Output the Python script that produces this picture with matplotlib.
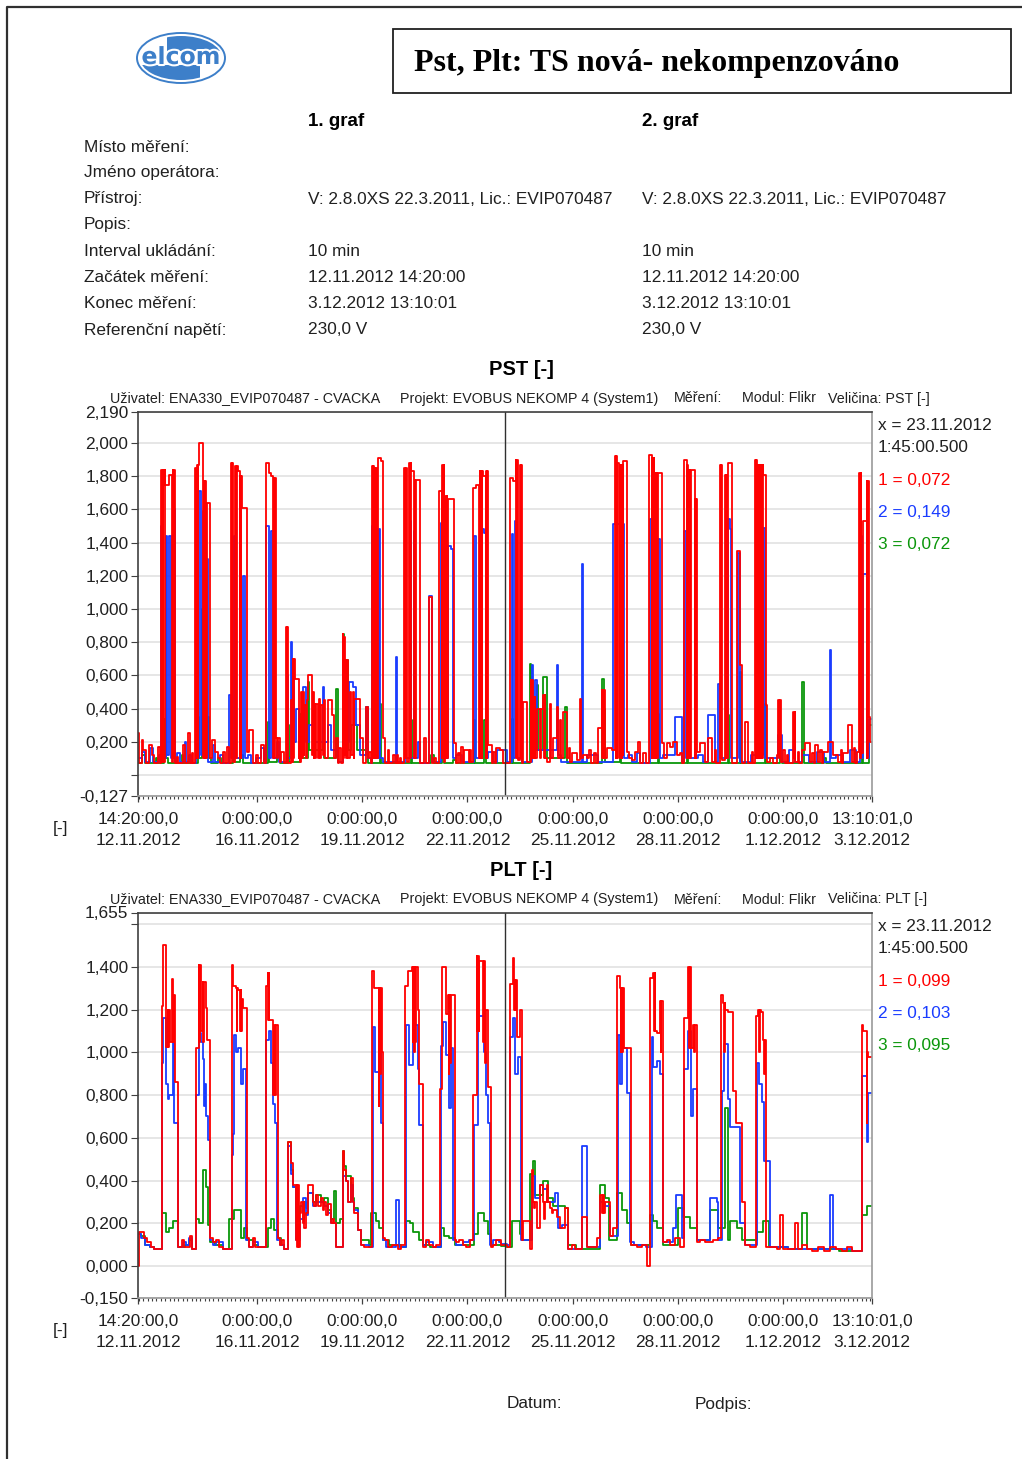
import datetime as dt
import matplotlib
matplotlib.use("Agg")
import matplotlib.pyplot as plt
from matplotlib.patches import Ellipse, Rectangle
from matplotlib.ticker import FixedLocator, FixedFormatter
import matplotlib.patheffects as pe

# ---------------------------------------------------------------- record info
START = dt.datetime(2012, 11, 12, 14, 20, 0)
END = dt.datetime(2012, 12, 3, 13, 10, 1)
CURSOR = dt.datetime(2012, 11, 23, 1, 45, 0, 500000)

TITLE = "Pst, Plt: TS nová- nekompenzováno"
INFO_LABELS = ["Místo měření:", "Jméno operátora:", "Přístroj:", "Popis:",
               "Interval ukládání:", "Začátek měření:", "Konec měření:",
               "Referenční napětí:"]
INFO_GRAF1 = ["", "", "V: 2.8.0XS 22.3.2011, Lic.: EVIP070487", "",
              "10 min", "12.11.2012 14:20:00", "3.12.2012 13:10:01", "230,0 V"]
INFO_GRAF2 = list(INFO_GRAF1)
HEADER_PARTS = ["Uživatel: ENA330_EVIP070487 - CVACKA",
                "Projekt: EVOBUS NEKOMP 4 (System1)", "Měření:",
                "Modul: Flikr", "Veličina: {q} [-]"]

XTICK_TIMES = ["2012-11-12 14:20:00", "2012-11-16 00:00:00", "2012-11-19 00:00:00",
               "2012-11-22 00:00:00", "2012-11-25 00:00:00", "2012-11-28 00:00:00",
               "2012-12-01 00:00:00", "2012-12-03 13:10:01"]

# y-axis ranges and ticks (hidden labels are left blank on the axis)
PST_YLIM = (-0.127, 2.190)
PST_YTICKS = [-0.127, 0.0, 0.2, 0.4, 0.6, 0.8, 1.0, 1.2, 1.4, 1.6, 1.8, 2.0, 2.190]
PST_UNLABELED = [0.0]
PLT_YLIM = (-0.150, 1.655)
PLT_YTICKS = [-0.150, 0.0, 0.2, 0.4, 0.6, 0.8, 1.0, 1.2, 1.4, 1.6, 1.655]
PLT_UNLABELED = [1.6]

# ---------------------------------------------------------------- measured data
# (hours since start of record, value) - step changes of each phase
PST_L1 = [(0.0, 0.25), (0.9, 0.07), (2.5, 0.21), (3.6, 0.15), (5.5, 0.07), (7.8, 0.18), (9.5, 0.12), (11.0, 0.07), (14.0, 0.17), (15.2, 0.07),
          (15.8, 1.84), (16.4, 0.08), (16.8, 1.84), (17.3, 0.08), (18.3, 1.84), (18.8, 1.75), (21.0, 1.81), (23.3, 0.08), (23.7, 1.84), (24.2, 0.1), (24.6, 1.84), (25.3, 0.07),
          (26.5, 0.11), (27.5, 0.07), (30.5, 0.18), (32.0, 0.07), (34.5, 0.25), (35.5, 0.07), (37.0, 0.13), (38.0, 0.07),
          (39.3, 1.85), (39.8, 0.1), (40.2, 1.87), (40.8, 0.1), (41.2, 1.87), (42.0, 2.0), (44.5, 0.1), (45.2, 1.77), (45.7, 0.1), (46.1, 1.77), (46.6, 0.1), (47.0, 1.64), (49.3, 0.1),
          (51.0, 0.21), (52.5, 0.14), (54.5, 0.1), (56.5, 0.07), (58.5, 0.14), (59.5, 0.07), (61.0, 0.17), (62.0, 0.07),
          (63.7, 1.88), (64.2, 0.1), (64.6, 1.88), (65.2, 0.08), (66.7, 1.86), (67.2, 0.1), (67.6, 1.86), (68.3, 1.83), (69.9, 0.1), (70.2, 1.8), (70.6, 0.1), (70.9, 1.8), (71.3, 1.61), (74.7, 0.14),
          (76.0, 0.27), (78.6, 0.07), (81.0, 0.12), (82.5, 0.07), (84.3, 0.18), (86.0, 0.07),
          (87.7, 1.88), (89.5, 1.82), (91.1, 1.8), (92.7, 0.1), (92.9, 1.79), (93.3, 0.1), (93.7, 1.79), (94.3, 0.22), (95.5, 0.1), (96.0, 0.22), (97.0, 0.08), (98.0, 0.14), (100.3, 0.07),
          (101.4, 0.89), (101.9, 0.08), (102.3, 0.89), (102.8, 0.07), (104.8, 0.45), (105.3, 0.08), (106.0, 0.70), (106.5, 0.1), (107.0, 0.70), (107.8, 0.58), (110.1, 0.1), (110.6, 0.34), (111.2, 0.08), (111.7, 0.5), (112.3, 0.1), (112.8, 0.5), (113.4, 0.12), (114.0, 0.42), (115.1, 0.1), (115.6, 0.45), (116.2, 0.6), (119.0, 0.12), (119.7, 0.5), (120.3, 0.1), (120.8, 0.43), (121.3, 0.1), (121.9, 0.43), (123.1, 0.1), (124.2, 0.46), (125.0, 0.1), (125.6, 0.42), (126.5, 0.12), (127.3, 0.45), (128.0, 0.1), (129.9, 0.45), (133.0, 0.36), (134.5, 0.1), (135.6, 0.22), (136.8, 0.07), (138.0, 0.16), (139.0, 0.07),
          (140.2, 0.85), (140.7, 0.1), (141.1, 0.83), (141.6, 0.12), (142.1, 0.69), (142.6, 0.1), (143.0, 0.69), (143.6, 0.1), (145.0, 0.5), (145.6, 0.12), (147.1, 0.5), (147.7, 0.1), (148.2, 0.46), (152.0, 0.22), (153.9, 0.07), (156.2, 0.41), (157.3, 0.1), (158.5, 0.14), (159.6, 0.07),
          (160.3, 1.86), (160.8, 0.1), (161.2, 1.86), (161.7, 0.1), (162.1, 1.85), (162.6, 0.1), (163.0, 1.85), (163.6, 0.1), (164.2, 1.91), (166.6, 1.89), (167.6, 0.22), (169.5, 0.07), (171.0, 0.15), (172.0, 0.07), (175.0, 0.12), (176.0, 0.07), (177.5, 0.12), (178.3, 0.07), (179.5, 0.1), (180.5, 0.07),
          (182.5, 1.85), (183.0, 0.1), (183.4, 1.85), (184.0, 0.08), (185.9, 1.88), (186.4, 0.1), (186.8, 1.88), (187.0, 1.83), (189.3, 0.1), (189.5, 1.78), (190.0, 0.1), (190.4, 1.78), (193.2, 0.07),
          (196.2, 0.22), (197.5, 0.07), (199.2, 1.07), (201.4, 0.07), (203.0, 0.1), (204.2, 0.07),
          (206.4, 1.71), (208.2, 0.1), (208.4, 1.87), (208.9, 0.1), (209.3, 1.87), (209.8, 0.08), (210.5, 1.68), (211.0, 0.1), (211.4, 1.68), (211.9, 0.1), (212.2, 1.66), (216.7, 0.19),
          (218.0, 0.07), (219.5, 0.13), (220.3, 0.07), (221.3, 0.17), (222.4, 0.07), (223.6, 0.15), (226.5, 0.08), (227.5, 0.15), (228.3, 0.08),
          (229.3, 1.73), (231.6, 1.75), (233.9, 0.1), (234.0, 1.83), (234.5, 0.1), (234.9, 1.83), (235.4, 0.1), (235.8, 1.83), (236.1, 1.8), (238.3, 0.1), (238.4, 1.83), (238.9, 0.1), (239.2, 1.83), (239.6, 0.18),
          (242.5, 0.07), (243.5, 0.14), (244.3, 0.07), (245.3, 0.16), (248.0, 0.15), (250.3, 0.072), (253.0, 0.07),
          (254.8, 1.79), (257.1, 1.77), (258.7, 1.9), (259.2, 0.1), (259.6, 1.9), (260.1, 0.09), (261.7, 1.87), (262.2, 0.1), (262.6, 1.87), (263.3, 0.07),
          (264.0, 0.44), (266.7, 0.08), (269.0, 0.57), (269.5, 0.1), (269.9, 0.57), (270.4, 0.1), (270.8, 0.47), (271.3, 0.1), (271.7, 0.47), (272.2, 0.1), (273.1, 0.4), (275.4, 0.1), (276.0, 0.4), (277.7, 0.48), (278.2, 0.1), (278.6, 0.48), (279.1, 0.1), (280.0, 0.08), (282.2, 0.43), (283.0, 0.1), (284.5, 0.22), (286.8, 0.41), (287.5, 0.1), (289.1, 0.33), (290.0, 0.1), (291.4, 0.38), (293.6, 0.1), (295.0, 0.16), (296.0, 0.08), (297.1, 0.13), (300.5, 0.09), (302.8, 0.46), (303.3, 0.1), (304.6, 0.12), (307.4, 0.1), (309.0, 0.15), (310.0, 0.07), (312.5, 0.13), (313.5, 0.07), (315.3, 0.28), (317.6, 0.51), (318.1, 0.1), (318.5, 0.51), (319.0, 0.1), (319.5, 0.51), (320.0, 0.1), (321.0, 0.16), (324.5, 0.15),
          (326.8, 1.92), (327.3, 0.1), (327.7, 1.92), (328.2, 0.1), (328.4, 1.88), (329.6, 0.1), (330.0, 1.87), (330.5, 0.1), (330.9, 1.87), (331.4, 0.1), (331.8, 1.87), (332.3, 0.12), (332.5, 1.89), (334.8, 0.14),
          (336.5, 0.1), (338.2, 0.09), (340.5, 0.14), (342.7, 0.2), (344.0, 0.07), (346.2, 0.13), (348.0, 0.07),
          (350.3, 1.93), (351.9, 0.1), (352.3, 1.91), (352.8, 0.1), (353.2, 1.91), (353.7, 0.1), (354.2, 1.82), (354.7, 0.1), (355.1, 1.82), (355.6, 0.1), (356.4, 1.82), (358.8, 0.19),
          (360.5, 0.1), (362.1, 0.19), (364.4, 0.17), (366.7, 0.2), (369.0, 0.12), (371.0, 0.13), (372.5, 0.07),
          (374.0, 1.9), (375.9, 0.1), (376.0, 1.87), (376.5, 0.1), (376.9, 1.84), (377.4, 0.1), (377.8, 1.84), (378.3, 0.1), (378.7, 1.84), (381.5, 0.1), (381.6, 1.66), (382.1, 0.1), (382.5, 1.66), (383.1, 0.14),
          (385.0, 0.19), (388.4, 0.08), (390.7, 0.22), (393.0, 0.08), (395.0, 0.15), (396.0, 0.07),
          (398.7, 1.87), (399.2, 0.1), (399.6, 1.87), (400.2, 0.09), (402.1, 1.81), (402.6, 0.1), (403.0, 1.81), (403.5, 0.1), (403.9, 1.81), (404.4, 1.88), (407.1, 0.07), (410.1, 1.35), (412.4, 0.66), (413.5, 0.07),
          (415.8, 0.32), (418.1, 0.07), (420.4, 0.14), (421.5, 0.07),
          (422.7, 1.9), (423.2, 0.1), (423.6, 1.9), (424.1, 0.1), (424.5, 1.87), (425.0, 0.1), (425.4, 1.87), (425.9, 0.1), (426.3, 1.87), (426.8, 0.1), (427.2, 1.87), (427.7, 0.1), (428.1, 1.87), (428.4, 1.81), (430.0, 0.42), (430.7, 0.08),
          (433.0, 0.1), (435.0, 0.07), (437.5, 0.12), (438.6, 0.45), (439.2, 0.1), (439.8, 0.45), (440.3, 0.08), (442.0, 0.15), (443.0, 0.07), (444.5, 0.12), (445.5, 0.07), (448.9, 0.38), (449.4, 0.1), (449.8, 0.38), (450.4, 0.08), (452.0, 0.14), (453.0, 0.07), (454.6, 0.15), (456.9, 0.19), (460.3, 0.08), (462.0, 0.13), (462.8, 0.07), (463.8, 0.18), (466.0, 0.08), (467.5, 0.15), (468.5, 0.07), (469.5, 0.14), (472.9, 0.2), (476.3, 0.12), (479.7, 0.08), (481.5, 0.15), (482.3, 0.07), (483.2, 0.13), (486.6, 0.3), (488.9, 0.08), (490.5, 0.16), (491.3, 0.07), (492.3, 0.14),
          (494.1, 1.82), (494.6, 0.1), (495.0, 1.82), (495.5, 0.13), (496.9, 1.53), (499.1, 0.1), (499.2, 1.77), (499.7, 0.1), (500.1, 1.77), (500.6, 0.35), (501.5, 0.2)]

PST_L2 = [(0.0, 0.1), (3.0, 0.14), (5.0, 0.08), (8.0, 0.16), (10.5, 0.08), (14.5, 0.12), (15.8, 0.08),
          (16.0, 1.5), (16.5, 0.1), (19.4, 1.44), (20.0, 0.12), (21.5, 1.44), (22.6, 0.1), (24.0, 1.6), (25.3, 0.08),
          (27.0, 0.13), (29.0, 0.08), (32.0, 0.2), (33.0, 0.08), (35.2, 0.12), (36.5, 0.07),
          (39.5, 1.45), (40.5, 0.1), (42.0, 1.71), (43.2, 0.12), (44.8, 1.59), (45.4, 0.1), (46.6, 1.3), (48.2, 0.08),
          (51.2, 0.18), (53.0, 0.08), (56.0, 0.12), (58.0, 0.07), (62.5, 0.48), (64.0, 0.1), (65.6, 1.44), (66.3, 0.1), (72.2, 1.2), (73.5, 0.1), (75.5, 0.12), (77.4, 0.07), (81.0, 0.1), (84.0, 0.16), (86.0, 0.07),
          (88.0, 1.5), (89.5, 0.1), (91.1, 1.47), (92.3, 0.1), (95.0, 0.2), (96.5, 0.08),
          (102.0, 0.6), (102.6, 0.1), (104.8, 0.8), (105.4, 0.12), (106.0, 0.7), (106.6, 0.2), (108.2, 0.4), (110.1, 0.15), (112.8, 0.53), (115.1, 0.2), (117.4, 0.3), (119.7, 0.2), (126.5, 0.53), (127.2, 0.2), (129.9, 0.3), (132.2, 0.15), (136.8, 0.08),
          (140.2, 0.6), (141.4, 0.2), (144.8, 0.56), (147.1, 0.53), (149.3, 0.3), (152.0, 0.12), (156.2, 0.41), (157.3, 0.1), (159.6, 0.07),
          (160.5, 1.5), (161.2, 0.1), (165.0, 1.48), (166.0, 0.1), (168.0, 0.08), (176.5, 0.71), (177.3, 0.08),
          (182.7, 1.5), (183.5, 0.1), (186.0, 1.53), (186.8, 0.1), (189.3, 1.47), (190.0, 0.1), (191.5, 0.2), (193.5, 0.07),
          (199.2, 1.08), (201.4, 0.08),
          (207.6, 1.52), (208.5, 0.1), (212.2, 1.38), (214.4, 1.36), (215.6, 0.1), (218.0, 0.12), (222.0, 0.08),
          (230.4, 1.44), (231.5, 0.1), (235.0, 1.48), (237.3, 1.46), (238.4, 0.1), (240.0, 0.14), (243.0, 0.08), (246.0, 0.15), (250.3, 0.149), (252.5, 0.08),
          (256.0, 1.45), (257.1, 0.1), (258.3, 1.53), (259.4, 0.1), (263.0, 0.08),
          (269.7, 0.66), (270.5, 0.1), (272.0, 0.57), (273.0, 0.15), (286.8, 0.66), (288.0, 0.12), (290.0, 0.08), (303.9, 1.27), (304.6, 0.08), (307.4, 0.12), (315.3, 0.08),
          (325.6, 1.51), (332.9, 0.1), (335.9, 0.12), (338.2, 0.08), (341.6, 0.13), (343.9, 0.07),
          (351.0, 1.54), (352.0, 0.1), (356.4, 1.42), (357.6, 0.1), (359.9, 0.12), (367.9, 0.35), (372.4, 0.08),
          (374.0, 1.47), (375.5, 0.1), (383.8, 0.12), (387.3, 0.08), (390.7, 0.36), (395.3, 0.08), (397.5, 0.55), (398.5, 0.1),
          (404.4, 1.54), (405.5, 1.48), (406.5, 0.1), (411.2, 1.34), (412.4, 0.08), (420.0, 0.12),
          (428.4, 1.49), (429.5, 0.1), (438.6, 0.24), (440.9, 0.08), (446.0, 0.15), (450.0, 0.08), (455.0, 0.12), (460.0, 0.08), (465.0, 0.14), (470.0, 0.08), (474.0, 0.75), (475.0, 0.1), (478.0, 0.12), (483.0, 0.08), (488.0, 0.15), (492.0, 0.08),
          (494.6, 1.44), (495.7, 0.1), (496.9, 1.21), (499.1, 0.1), (501.0, 0.34)]

PST_L3 = [(0.0, 0.07), (3.0, 0.12), (4.5, 0.07), (12.0, 0.1), (13.0, 0.07), (18.0, 0.34), (19.0, 0.1), (20.5, 0.07), (30.0, 0.12), (31.0, 0.07),
          (40.9, 0.35), (41.6, 0.1), (43.8, 1.0), (44.3, 0.12), (47.7, 0.35), (48.5, 0.1), (50.0, 0.07), (55.0, 0.1), (57.0, 0.07), (65.0, 0.2), (66.0, 0.08), (70.0, 0.12), (72.0, 0.07),
          (88.8, 0.32), (89.7, 0.08), (95.0, 0.12), (97.0, 0.07), (102.5, 0.3), (103.5, 0.08), (111.0, 0.37), (112.5, 0.1), (116.2, 0.56), (117.4, 0.15), (126.5, 0.41), (127.5, 0.1), (135.6, 0.52), (136.8, 0.08),
          (140.2, 0.85), (141.0, 0.2), (142.5, 0.69), (143.6, 0.15), (146.0, 0.3), (150.0, 0.15), (156.2, 0.41), (157.3, 0.07), (165.5, 0.43), (166.5, 0.07),
          (187.0, 0.33), (188.0, 0.07), (201.0, 0.12), (203.0, 0.07), (208.5, 0.25), (209.5, 0.07), (216.0, 0.09), (218.0, 0.07),
          (230.4, 0.33), (231.2, 0.07), (237.3, 0.33), (238.4, 0.07), (250.3, 0.072), (252.5, 0.07),
          (256.0, 0.34), (257.0, 0.07), (268.6, 0.67), (269.5, 0.15), (273.0, 0.54), (274.2, 0.15), (277.7, 0.59), (280.0, 0.1), (292.5, 0.41), (293.6, 0.07),
          (317.6, 0.58), (319.2, 0.4), (320.0, 0.08), (330.0, 0.38), (331.0, 0.07), (356.4, 0.37), (357.0, 0.07), (375.9, 0.37), (376.8, 0.07),
          (404.4, 0.36), (405.2, 0.07), (412.4, 0.62), (413.2, 0.07), (429.5, 0.43), (430.3, 0.07), (440.0, 0.1), (441.0, 0.07), (454.6, 0.56), (456.0, 0.07), (470.0, 0.1), (471.0, 0.07),
          (495.7, 0.35), (496.5, 0.07), (501.0, 0.3)]

PLT_L1 = [(0.0, 0.0), (0.5, 0.158), (4.0, 0.13), (6.5, 0.11), (9.0, 0.09), (11.0, 0.08),
          (16.4, 1.215), (16.9, 1.505), (19.2, 1.025), (20.3, 1.2), (20.8, 1.025), (21.5, 1.2), (22.0, 1.05), (23.5, 1.345), (24.2, 1.05), (24.5, 1.27), (25.6, 0.86), (27.7, 0.09),
          (30.0, 0.12), (31.5, 0.09), (35.5, 0.14), (37.0, 0.08),
          (39.7, 1.02), (41.5, 1.41), (42.0, 1.05), (42.5, 1.41), (43.2, 1.1), (44.3, 1.33), (44.8, 1.05), (45.4, 1.33), (46.6, 1.21), (47.4, 1.06), (49.3, 0.13),
          (51.2, 0.11), (53.4, 0.12), (55.7, 0.09), (58.0, 0.08),
          (64.4, 1.41), (65.0, 1.31), (67.1, 1.3), (67.6, 1.1), (68.0, 1.3), (68.3, 1.29), (69.9, 1.1), (70.3, 1.29), (70.8, 1.1), (71.2, 1.25), (71.7, 1.21), (74.7, 0.13),
          (76.3, 0.09), (78.6, 0.13), (80.0, 0.09),
          (87.7, 1.31), (88.8, 1.37), (89.3, 1.15), (89.7, 1.37), (90.0, 1.15), (92.3, 1.13), (92.8, 0.8), (93.2, 1.13), (94.1, 0.8), (94.6, 1.13), (95.7, 0.13),
          (97.0, 0.1), (98.5, 0.12), (100.3, 0.08),
          (102.5, 0.58), (104.8, 0.48), (106.0, 0.38), (108.2, 0.12), (108.7, 0.38), (109.2, 0.09), (109.7, 0.38), (110.3, 0.09), (110.7, 0.25), (111.5, 0.3), (112.8, 0.2), (113.4, 0.3), (114.0, 0.18), (115.1, 0.25), (116.5, 0.38), (119.7, 0.3), (120.8, 0.28), (121.9, 0.33), (123.1, 0.28), (125.4, 0.32), (126.5, 0.26), (127.7, 0.3), (128.8, 0.24), (129.9, 0.29), (132.2, 0.2), (133.4, 0.22), (134.5, 0.2), (135.6, 0.09),
          (140.2, 0.54), (141.4, 0.45), (142.5, 0.4), (143.6, 0.3), (145.9, 0.41), (147.1, 0.3), (148.2, 0.25), (150.5, 0.17), (152.8, 0.1), (155.0, 0.09),
          (160.3, 1.38), (162.0, 1.3), (164.9, 0.75), (165.3, 1.3), (165.8, 0.9), (166.2, 1.3), (167.0, 1.0), (168.1, 0.13),
          (169.0, 0.12), (171.0, 0.09), (174.0, 0.1), (177.9, 0.08), (180.0, 0.1),
          (183.1, 1.31), (184.8, 1.38), (187.7, 1.4), (188.2, 1.05), (188.6, 1.4), (189.1, 1.0), (189.5, 1.4), (190.0, 1.05), (190.5, 1.4), (191.6, 1.2), (192.7, 0.85), (195.5, 0.09),
          (197.3, 0.12), (199.6, 0.1), (201.9, 0.09), (204.2, 0.1),
          (206.9, 0.83), (208.3, 1.4), (211.0, 1.18), (212.2, 1.27), (212.8, 0.9), (213.3, 1.27), (213.8, 0.95), (214.2, 1.27), (216.9, 0.12),
          (218.0, 0.11), (220.1, 0.12), (222.4, 0.1), (225.0, 0.09), (227.5, 0.12),
          (229.7, 0.8), (232.0, 1.45), (232.5, 1.1), (232.9, 1.45), (233.4, 1.1), (233.9, 1.43), (236.1, 1.43), (236.6, 1.05), (237.0, 1.43), (237.5, 1.2), (238.0, 0.95), (238.4, 1.2), (239.6, 0.84), (241.8, 0.09),
          (243.0, 0.1), (245.3, 0.12), (249.0, 0.099), (253.0, 0.09),
          (254.8, 1.32), (257.1, 1.44), (257.6, 1.2), (258.0, 1.34), (258.5, 1.2), (259.0, 1.34), (259.4, 1.07), (260.5, 1.07), (261.7, 1.2), (262.8, 0.165), (263.3, 0.12), (264.0, 0.21), (266.2, 0.21), (268.5, 0.08),
          (269.7, 0.45), (270.3, 0.4), (270.8, 0.3), (271.5, 0.27), (272.0, 0.3), (273.1, 0.18), (275.4, 0.38), (277.7, 0.3), (278.2, 0.22), (278.8, 0.3), (280.0, 0.38), (281.1, 0.3), (282.2, 0.27), (283.4, 0.25), (284.5, 0.26), (286.8, 0.23), (289.1, 0.18), (292.5, 0.27), (294.8, 0.08),
          (297.1, 0.1), (299.4, 0.08), (303.9, 0.23), (307.4, 0.09), (314.2, 0.13), (316.5, 0.33), (318.0, 0.25), (318.5, 0.33), (319.0, 0.25), (320.0, 0.3), (323.3, 0.14), (325.6, 0.18),
          (327.9, 1.36), (330.2, 1.3), (330.8, 1.0), (331.2, 1.3), (331.8, 1.0), (332.2, 1.3), (332.7, 1.02), (337.5, 0.1),
          (339.3, 0.1), (341.6, 0.09), (345.0, 0.1), (348.4, 0.0),
          (350.7, 1.35), (353.0, 1.37), (353.5, 1.1), (353.9, 1.37), (354.4, 1.1), (355.3, 1.09), (357.6, 1.24), (358.1, 1.0), (358.5, 1.24), (359.9, 0.11),
          (362.1, 0.12), (364.4, 0.1), (367.9, 0.13), (371.3, 0.09),
          (374.0, 1.16), (377.0, 1.4), (377.5, 1.02), (377.9, 1.4), (378.6, 1.02), (380.4, 1.13), (380.9, 1.0), (381.3, 1.13), (382.7, 0.11),
          (385.0, 0.12), (388.4, 0.11), (391.8, 0.11), (394.1, 0.12), (397.5, 0.13),
          (399.4, 1.27), (401.0, 1.23), (401.4, 1.0), (401.8, 1.23), (402.1, 1.2), (404.4, 1.19), (407.4, 0.82), (409.6, 0.67), (413.5, 0.3), (415.8, 0.1),
          (417.0, 0.1), (419.2, 0.09),
          (423.3, 1.17), (425.0, 1.2), (425.5, 1.0), (425.9, 1.2), (426.5, 1.19), (428.4, 1.06), (428.9, 0.9), (429.3, 1.06), (430.0, 0.09),
          (433.0, 0.09), (437.5, 0.08), (439.8, 0.24), (442.1, 0.08), (450.1, 0.2), (452.3, 0.08), (455.0, 0.1), (458.1, 0.08), (462.0, 0.07), (466.0, 0.09), (470.0, 0.07), (474.0, 0.09), (478.0, 0.08), (482.0, 0.07), (486.0, 0.09), (489.0, 0.07),
          (495.7, 1.13), (496.9, 1.1), (499.1, 0.67), (499.6, 1.0), (500.3, 0.98)]

PLT_L2 = [(0.0, 0.15), (2.0, 0.13), (5.0, 0.1), (8.0, 0.09), (11.0, 0.08),
          (16.4, 0.95), (16.9, 1.16), (19.2, 0.85), (20.3, 0.78), (21.5, 0.8), (23.7, 1.05), (24.9, 0.67), (27.2, 0.09),
          (30.6, 0.11), (32.9, 0.1), (35.2, 0.13), (37.0, 0.08),
          (39.7, 0.8), (41.5, 1.09), (43.2, 1.05), (44.3, 0.97), (45.4, 0.75), (45.9, 0.85), (46.6, 0.7), (48.2, 0.59), (49.3, 0.12),
          (51.2, 0.1), (53.4, 0.11), (58.0, 0.08),
          (64.4, 0.52), (65.0, 0.62), (66.0, 1.08), (67.1, 1.0), (68.3, 1.02), (70.6, 0.85), (71.7, 0.92), (74.3, 0.12),
          (76.3, 0.09), (78.6, 0.11), (82.0, 0.09),
          (88.0, 1.06), (90.0, 1.1), (91.1, 0.95), (92.3, 0.76), (93.8, 0.67), (95.0, 0.12), (97.0, 0.1), (100.3, 0.08),
          (102.5, 0.56), (104.8, 0.43), (106.5, 0.37), (108.2, 0.12), (110.7, 0.22), (112.8, 0.32), (115.1, 0.24), (116.5, 0.34), (119.7, 0.28), (121.9, 0.3), (125.4, 0.3), (127.7, 0.28), (129.9, 0.25), (132.2, 0.2), (135.6, 0.09),
          (140.2, 0.42), (142.5, 0.4), (143.6, 0.3), (145.9, 0.38), (147.1, 0.3), (148.2, 0.26), (150.5, 0.17), (152.8, 0.1), (158.0, 0.09),
          (160.8, 1.12), (162.6, 0.91), (164.9, 1.0), (166.5, 0.67), (168.1, 0.12), (170.0, 0.09), (176.8, 0.31), (179.0, 0.09),
          (183.6, 1.13), (185.9, 0.94), (188.2, 1.13), (191.6, 0.92), (192.7, 0.66), (195.0, 0.1), (197.3, 0.11), (201.9, 0.09),
          (207.6, 1.03), (208.7, 1.14), (211.0, 0.99), (212.8, 0.74), (214.4, 1.02), (215.6, 0.12), (218.0, 0.1), (222.4, 0.11), (227.0, 0.12),
          (230.4, 0.66), (232.7, 1.15), (233.9, 1.17), (237.3, 1.0), (238.4, 0.8), (239.6, 0.67), (241.0, 0.1), (243.0, 0.12), (247.0, 0.11), (249.0, 0.103), (253.0, 0.1),
          (254.8, 1.07), (257.1, 1.16), (258.3, 0.9), (260.5, 0.98), (262.1, 0.12),
          (269.7, 0.42), (272.0, 0.32), (275.4, 0.38), (277.7, 0.36), (280.0, 0.3), (282.2, 0.3), (285.7, 0.34), (288.0, 0.18), (290.2, 0.19), (294.8, 0.08), (303.9, 0.56), (307.4, 0.09), (316.5, 0.3), (320.0, 0.28), (323.3, 0.14),
          (329.0, 1.08), (330.2, 0.85), (331.3, 1.02), (334.7, 0.81), (337.0, 0.11), (340.0, 0.1), (348.0, 0.09),
          (351.9, 1.07), (353.0, 0.93), (355.3, 0.96), (357.6, 0.9), (359.9, 0.11), (366.7, 0.18), (368.5, 0.33), (372.4, 0.13),
          (374.0, 0.92), (377.0, 1.1), (378.6, 0.7), (380.4, 0.83), (383.0, 0.12), (391.8, 0.32), (396.4, 0.3), (397.5, 0.12),
          (399.8, 0.82), (401.4, 1.04), (404.4, 0.78), (405.5, 0.65), (412.4, 0.2), (415.8, 0.1),
          (423.8, 0.95), (425.6, 0.85), (427.2, 0.77), (428.8, 0.49), (433.0, 0.09), (445.0, 0.08), (474.0, 0.33), (476.3, 0.08), (489.0, 0.07),
          (495.7, 0.89), (499.1, 0.58), (500.3, 0.81)]

PLT_L3 = [(0.0, 0.15), (2.0, 0.14), (5.0, 0.1), (8.0, 0.09), (11.0, 0.08), (16.4, 0.25), (19.2, 0.16), (21.5, 0.18), (23.7, 0.21), (27.2, 0.09), (32.0, 0.1), (35.2, 0.12), (37.0, 0.08),
          (39.7, 0.22), (42.0, 0.2), (44.3, 0.45), (46.6, 0.37), (47.7, 0.19), (49.3, 0.11), (53.0, 0.1), (58.0, 0.08),
          (62.6, 0.22), (66.0, 0.26), (70.6, 0.13), (72.8, 0.18), (74.7, 0.12), (78.6, 0.1), (82.0, 0.09),
          (88.8, 0.18), (91.1, 0.22), (93.4, 0.17), (96.0, 0.13), (98.0, 0.1), (100.3, 0.08),
          (102.5, 0.58), (104.8, 0.45), (106.5, 0.37), (108.2, 0.25), (110.7, 0.28), (112.8, 0.3), (115.1, 0.27), (116.5, 0.34), (119.7, 0.3), (121.9, 0.33), (125.4, 0.3), (127.7, 0.32), (129.9, 0.26), (132.2, 0.22), (134.5, 0.35), (135.6, 0.2), (138.5, 0.22),
          (140.2, 0.54), (141.4, 0.47), (142.5, 0.42), (145.9, 0.38), (147.1, 0.32), (148.2, 0.27), (150.5, 0.17), (152.8, 0.12), (158.0, 0.1),
          (159.6, 0.25), (163.0, 0.21), (165.3, 0.18), (168.1, 0.12), (172.0, 0.1), (180.0, 0.09),
          (183.6, 0.21), (186.0, 0.2), (188.2, 0.16), (192.7, 0.12), (195.5, 0.1), (200.0, 0.09),
          (207.6, 0.18), (209.9, 0.14), (213.3, 0.13), (216.9, 0.1), (222.0, 0.1),
          (230.4, 0.15), (232.7, 0.25), (237.3, 0.21), (239.6, 0.15), (241.8, 0.1), (249.0, 0.095), (253.0, 0.09),
          (256.0, 0.21), (261.7, 0.15), (262.8, 0.12), (268.5, 0.43), (270.8, 0.49), (272.0, 0.33), (277.7, 0.4), (281.1, 0.32), (284.5, 0.28), (292.5, 0.27), (294.8, 0.1), (300.0, 0.08), (316.5, 0.38), (320.0, 0.32), (323.0, 0.12),
          (327.9, 0.34), (331.3, 0.26), (334.7, 0.2), (337.5, 0.1),
          (350.7, 0.24), (353.0, 0.21), (355.3, 0.18), (359.9, 0.1),
          (370.1, 0.27), (373.6, 0.23), (378.1, 0.18), (382.7, 0.12),
          (391.8, 0.26), (397.0, 0.18), (402.1, 0.74), (404.0, 0.12), (405.5, 0.21), (410.1, 0.18), (413.5, 0.12),
          (423.8, 0.16), (428.4, 0.21), (432.0, 0.09), (445.0, 0.08), (454.6, 0.25), (458.1, 0.08), (480.0, 0.07),
          (495.7, 0.24), (499.1, 0.28)]

PHASE_COLORS = ["#ff0000", "#1a3cff", "#0a960a"]

# ---------------------------------------------------------------- helpers
FONT = "Liberation Sans"
W, H = 1027, 1459


def hours(t):
    return (t - START).total_seconds() / 3600.0


END_H = hours(END)
CURSOR_H = hours(CURSOR)


def value_at(series, h):
    val = series[0][1]
    for t, v in series:
        if t <= h:
            val = v
    return val


def comma(v):
    return f"{v:.3f}".replace(".", ",")


fig = plt.figure(figsize=(W / 100, H / 100), dpi=100)
bg = fig.add_axes([0, 0, 1, 1])
bg.set_xlim(0, W)
bg.set_ylim(H, 0)
bg.axis("off")

# page frame
bg.plot([7, 7, 1022], [H, 7, 7], color="#303030", lw=1.6, solid_capstyle="butt")

# logo
blue_logo = "#3d7fc9"
outer = Ellipse((181, 58), 88, 50, facecolor="white", edgecolor=blue_logo, lw=1.4)
bg.add_patch(outer)
inner = Ellipse((181, 58), 82, 44, facecolor="none", edgecolor="none")
bg.add_patch(inner)
for (x0, y0, w, h) in [(167, 30, 70, 21), (130, 65, 70, 25)]:
    r = Rectangle((x0, y0), w, h, facecolor=blue_logo, edgecolor="none")
    bg.add_patch(r)
    r.set_clip_path(inner)
bg.text(181, 57, "elcom", ha="center", va="center", fontsize=17, fontweight="bold",
        family="DejaVu Sans", color=blue_logo,
        path_effects=[pe.withStroke(linewidth=3, foreground="white")])

# title box
bg.add_patch(Rectangle((393, 29), 618, 64, facecolor="none", edgecolor="#202020", lw=1.3))
bg.text(414, 63, TITLE, ha="left", va="center", fontsize=23, fontweight="bold",
        family="Liberation Serif", color="black")

# measurement info block
bg.text(308, 121, "1. graf", ha="left", va="center", fontsize=13.5, fontweight="bold", family=FONT)
bg.text(642, 121, "2. graf", ha="left", va="center", fontsize=13.5, fontweight="bold", family=FONT)
row_y = [147, 173, 199, 225, 251, 277, 303, 330]
for y, lab, v1, v2 in zip(row_y, INFO_LABELS, INFO_GRAF1, INFO_GRAF2):
    bg.text(84, y, lab, ha="left", va="center", fontsize=12.4, family=FONT, color="#202020")
    bg.text(308, y, v1, ha="left", va="center", fontsize=12.4, family=FONT, color="#202020")
    bg.text(642, y, v2, ha="left", va="center", fontsize=12.4, family=FONT, color="#202020")

bg.text(507, 1404, "Datum:", ha="left", va="center", fontsize=12.4, family=FONT, color="#202020")
bg.text(695, 1404, "Podpis:", ha="left", va="center", fontsize=12.4, family=FONT, color="#202020")

# ---------------------------------------------------------------- chart panels
xtick_dt = [dt.datetime.strptime(s, "%Y-%m-%d %H:%M:%S") for s in XTICK_TIMES]
xtick_h = [hours(t) for t in xtick_dt]
xtick_lab = [f"{t.hour}:{t.minute:02d}:{t.second:02d},0\n{t.day}.{t.month}.{t.year}" for t in xtick_dt]
minor_h = []
t = dt.datetime(2012, 11, 12, 15, 0)
while t < END:
    minor_h.append(hours(t))
    t += dt.timedelta(hours=3)


def panel(top_px, bottom_px, series, ylim, yticks, unlabeled, quantity):
    left_px, right_px = 138, 872
    ax = fig.add_axes([left_px / W, 1 - bottom_px / H,
                       (right_px - left_px) / W, (bottom_px - top_px) / H])
    ax.set_xlim(0, END_H)
    ax.set_ylim(*ylim)
    ax.set_axisbelow(True)
    ax.yaxis.set_major_locator(FixedLocator(yticks))
    ax.yaxis.set_major_formatter(FixedFormatter(
        ["" if any(abs(v - u) < 1e-9 for u in unlabeled) else comma(v) for v in yticks]))
    ax.yaxis.grid(True, color="#e4e4e4", lw=1.3)
    ax.xaxis.set_major_locator(FixedLocator(xtick_h))
    ax.xaxis.set_major_formatter(FixedFormatter(xtick_lab))
    ax.xaxis.set_minor_locator(FixedLocator(minor_h))
    ax.tick_params(axis="y", direction="out", length=5, width=0.8, color="#404040",
                   labelsize=12.4, pad=2, labelcolor="#202020")
    ax.tick_params(axis="x", which="major", direction="out", length=4.5, width=0.9,
                   color="#404040", labelsize=12.4, pad=7, labelcolor="#202020")
    ax.tick_params(axis="x", which="minor", direction="out", length=2.5, width=0.8,
                   color="#404040")
    for lab in ax.get_xticklabels() + ax.get_yticklabels():
        lab.set_family(FONT)
        lab.set_linespacing(1.5)
    for side, col in [("left", "#404040"), ("top", "#404040"),
                      ("right", "#9a9a9a"), ("bottom", "#9a9a9a")]:
        ax.spines[side].set_color(col)
        ax.spines[side].set_linewidth(1.2)

    # phases drawn green, blue, then red on top
    for idx in (2, 1, 0):
        s = series[idx]
        hx = [p[0] for p in s] + [END_H]
        vy = [p[1] for p in s] + [s[-1][1]]
        ax.step(hx, vy, where="post", color=PHASE_COLORS[idx], lw=1.3)
    ax.axvline(CURSOR_H, color="#303030", lw=1.0)

    # header line above the plot
    head_x = [110, 400, 674, 742, 828]
    for x, part in zip(head_x, HEADER_PARTS):
        bg.text(x, top_px - 13, part.format(q=quantity), ha="left", va="center",
                fontsize=10.3, family=FONT, color="#202020")
    bg.text(521, top_px - 42, f"{quantity} [-]", ha="center", va="center",
            fontsize=14.5, fontweight="bold", family=FONT)
    bg.text(61, bottom_px + 32, "[-]", ha="center", va="center", fontsize=12.4,
            family=FONT, color="#202020")

    # cursor readout
    bg.text(878, top_px + 14, f"x = {CURSOR.day}.{CURSOR.month}.{CURSOR.year}",
            ha="left", va="center", fontsize=12.4, family=FONT, color="#202020")
    bg.text(878, top_px + 36, f"{CURSOR.hour}:{CURSOR.minute:02d}:{CURSOR.second:02d}.{CURSOR.microsecond // 1000:03d}",
            ha="left", va="center", fontsize=12.4, family=FONT, color="#202020")
    for i in range(3):
        v = value_at(series[i], CURSOR_H)
        bg.text(878, top_px + 69 + 32 * i, f"{i + 1} = {comma(v)}", ha="left",
                va="center", fontsize=12.4, family=FONT, color=PHASE_COLORS[i])
    return ax


panel(411.5, 796, [PST_L1, PST_L2, PST_L3], PST_YLIM, PST_YTICKS, PST_UNLABELED, "PST")
panel(912.5, 1298, [PLT_L1, PLT_L2, PLT_L3], PLT_YLIM, PLT_YTICKS, PLT_UNLABELED, "PLT")

fig.savefig("out.png", dpi=100)
